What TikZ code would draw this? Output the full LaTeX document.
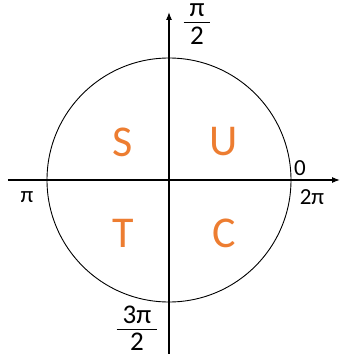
\documentclass[tikz,border=0pt]{standalone}
\usepackage{fontspec}
\setmainfont{Carlito}
\usepackage{tikz}
\usetikzlibrary{arrows.meta}
\usepackage{xcolor}
\definecolor{quadorange}{RGB}{237, 125, 49}
\newcommand{\angfrac}[2]{\renewcommand{\arraystretch}{0.6}%
  \begin{tabular}{@{\hspace{6pt}}c@{\hspace{6pt}}}#1\\[0pt]\hline\rule{0pt}{22pt}#2\end{tabular}}

\begin{document}
\begin{tikzpicture}[x=1pt, y=1pt, >=Latex,
    quad/.style={text=quadorange, font=\fontsize{44}{44}\selectfont},
    axlabel/.style={font=\fontsize{23}{26}\selectfont, inner sep=0pt}]
    \useasboundingbox (-169, -174) rectangle (172, 180);
    % axes
    \coordinate (xmin) at (-161, 0);
    \coordinate (xmax) at (171, 0);
    \coordinate (ymin) at (0, -174);
    \coordinate (ymax) at (0, 168);
    \draw[line width=1.1pt, ->] (xmin) -- (xmax);
    \draw[line width=1.1pt, ->] (ymin) -- (ymax);
    \node[circle, draw, line width=0.9pt, minimum size=244pt, inner sep=0pt] (unit) at (0,0) {};
    % quadrant letters
    \node[quad] (S) at (-46, 38) {S};
    \node[quad] (U) at (55, 38) {U};
    \node[quad] (T) at (-46, -53) {T};
    \node[quad] (C) at (55, -53) {C};
    % angle labels
    \node[axlabel] (zero) at (131, 12) {0};
    \node[axlabel] (twopi) at (143, -17) {2π};
    \node[axlabel] (pi) at (-142, -17) {π};
    \node[axlabel, font=\fontsize{27}{30}\selectfont] (halfpi) at (28, 153) {\angfrac{π}{2}};
    \node[axlabel, font=\fontsize{27}{30}\selectfont] (threehalfpi) at (-32, -151) {\angfrac{3π}{2}};
\end{tikzpicture}
\end{document}
